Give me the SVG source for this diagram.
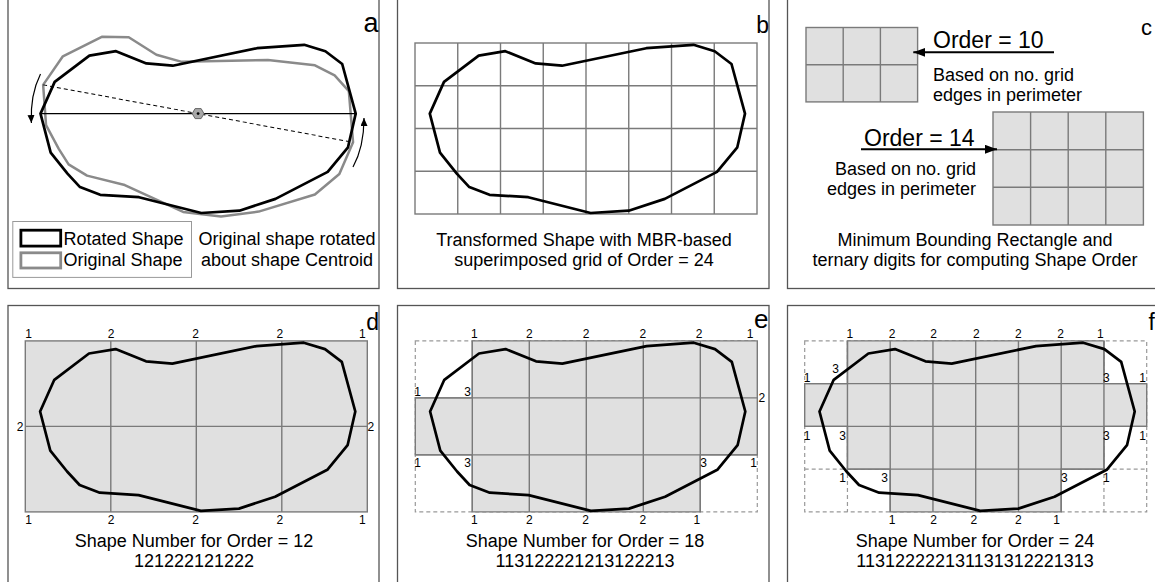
<svg xmlns="http://www.w3.org/2000/svg" xmlns:xlink="http://www.w3.org/1999/xlink" width="1155" height="582" viewBox="0 0 1155 582">
<style>
.border{fill:none;stroke:#555;stroke-width:1.3}
.shape{fill:none;stroke:#000;stroke-width:2.7;stroke-linejoin:round}
.orig{fill:none;stroke:#8a8a8a;stroke-width:2.5;stroke-linejoin:round}
.grid{fill:none;stroke:#7a7a7a;stroke-width:1.4}
.fillg{fill:#e0e0e0;stroke:#7a7a7a;stroke-width:1.4}
.dash{fill:none;stroke:#999;stroke-width:1.2;stroke-dasharray:4 3}
text{font-family:"Liberation Sans",Arial,sans-serif;fill:#000}
.cap{font-size:18px;text-anchor:middle}
.capl{font-size:18px;text-anchor:start}
.capr{font-size:18px;text-anchor:end}
.num{font-size:12px;text-anchor:middle}
.lbl{font-size:23px;text-anchor:end}
.ord{font-size:23px;text-anchor:start}
</style>
<defs>
<path id="blob" d="M29,38.9 L14.8,70.6 L25,109.7 L41.8,130.6 L54.3,144.1 L74.5,151.8 L113.3,154.2 L175.6,170 L213.7,167.7 L249.8,155.9 L302,128.9 L322.3,104.3 L330,70.6 L316.5,21 L299.7,8.2 L278.5,1.8 L231.3,5.2 L147,22.7 L120.7,20.4 L90.3,8.2 L63.7,12.6 Z"/>
<marker id="big" markerUnits="userSpaceOnUse" markerWidth="13" markerHeight="10" refX="12" refY="4.5" orient="auto"><path d="M0,0 L12,4.5 L0,9 Z" fill="#000"/></marker>
<marker id="small" markerUnits="userSpaceOnUse" markerWidth="9" markerHeight="8" refX="8" refY="3.5" orient="auto"><path d="M0,0 L8,3.5 L0,7 Z" fill="#000"/></marker>
</defs>

<g id="panel-a">
<rect class="border" x="8" y="-10" width="371" height="298.5"/>
<use href="#blob" class="orig" transform="rotate(10.5 198.1 113.6) translate(25.7 43)"/>
<use href="#blob" class="shape" transform="translate(25.7 43)"/>
<line x1="40.5" y1="113.6" x2="355.7" y2="113.6" stroke="#000" stroke-width="1.2"/>
<line x1="40.5" y1="113.6" x2="355.7" y2="113.6" stroke="#000" stroke-width="1" stroke-dasharray="4 3" transform="rotate(10.5 198.1 113.6)"/>
<polygon points="192.2,113.6 195.1,108.6 201.1,108.6 204,113.6 201.1,118.6 195.1,118.6" fill="#a8a8a8" stroke="#666" stroke-width="1"/>
<circle cx="198.1" cy="113.6" r="1.4" fill="#000"/>
<text class="lbl" x="378.5" y="32" style="font-size:27px">a</text>
<rect x="12.8" y="221.5" width="178.7" height="55.9" fill="#fff" stroke="#999" stroke-width="1"/>
<rect x="20.9" y="230.2" width="39.8" height="15.9" fill="none" stroke="#000" stroke-width="2.8"/>
<rect x="20.9" y="252.8" width="39.8" height="15.2" fill="none" stroke="#8a8a8a" stroke-width="2.8"/>
<text class="capl" x="63.4" y="245.4">Rotated Shape</text>
<text class="capl" x="63.4" y="266.3">Original Shape</text>
<text class="cap" x="287" y="245.4">Original shape rotated</text>
<text class="cap" x="287" y="266.3">about shape Centroid</text>
</g>

<g id="panel-b">
<rect class="border" x="397.5" y="-10" width="371.5" height="298.5"/>
<rect class="grid" x="415" y="43" width="342" height="171"/>
<path class="grid" d="M457.75,43V214 M500.5,43V214 M543.25,43V214 M586,43V214 M628.75,43V214 M671.5,43V214 M714.25,43V214 M415,85.75H757 M415,128.5H757 M415,171.25H757"/>
<use href="#blob" class="shape" transform="translate(415 43)"/>
<text class="lbl" x="769" y="32.7">b</text>
<text class="cap" x="584" y="246">Transformed Shape with MBR-based</text>
<text class="cap" x="584" y="266">superimposed grid of Order = 24</text>
</g>

<g id="panel-c">
<rect class="border" x="787.5" y="-10" width="380" height="298.5"/>
<rect class="fillg" x="806" y="27.5" width="111.6" height="74.4"/>
<path class="grid" d="M843.2,27.5V101.9 M880.4,27.5V101.9 M806,64.7H917.6"/>
<rect class="fillg" x="993" y="112" width="150.4" height="113"/>
<path class="grid" d="M1030.6,112V225 M1068.2,112V225 M1105.8,112V225 M993,149.7H1143.4 M993,187.3H1143.4"/>
<text class="ord" x="933" y="48">Order = 10</text>
<line x1="1054" y1="52.3" x2="913.3" y2="52.3" stroke="#000" stroke-width="2" marker-end="url(#big)"/>
<text class="capl" x="933" y="81">Based on no. grid</text>
<text class="capl" x="933" y="100.5">edges in perimeter</text>
<text class="ord" x="864" y="146">Order = 14</text>
<line x1="861" y1="149.3" x2="997" y2="149.3" stroke="#000" stroke-width="2" marker-end="url(#big)"/>
<text class="capr" x="976" y="175">Based on no. grid</text>
<text class="capr" x="976" y="195">edges in perimeter</text>
<text class="lbl" x="1152" y="35.4" style="font-size:22px">c</text>
<text class="cap" x="975" y="246">Minimum Bounding Rectangle and</text>
<text class="cap" x="975" y="266">ternary digits for computing Shape Order</text>
</g>

<g id="panel-d">
<rect class="border" x="8" y="305.5" width="371" height="300"/>
<rect class="fillg" x="25.3" y="340.9" width="342" height="171"/>
<path class="grid" d="M110.8,340.9V511.9 M196.3,340.9V511.9 M281.8,340.9V511.9 M25.3,426.4H367.3"/>
<use href="#blob" class="shape" transform="translate(25.3 340.9)"/>
<text class="lbl" x="379" y="329.8">d</text>
<text class="num" x="28.7" y="337.5">1</text><text class="num" x="111.2" y="337.5">2</text><text class="num" x="195.5" y="337.5">2</text><text class="num" x="279.8" y="337.5">2</text><text class="num" x="362.4" y="337.5">1</text>
<text class="num" x="28.7" y="524">1</text><text class="num" x="111.2" y="524">2</text><text class="num" x="195.5" y="524">2</text><text class="num" x="279.8" y="524">2</text><text class="num" x="362.4" y="524">1</text>
<text class="num" x="20.2" y="430.7">2</text><text class="num" x="370.8" y="430.7">2</text>
<text class="cap" x="194" y="546.5">Shape Number for Order = 12</text>
<text class="cap" x="194" y="566.5">121222121222</text>
</g>

<g id="panel-e">
<rect class="border" x="397.5" y="305.5" width="371.5" height="300"/>
<rect class="dash" x="415.3" y="340.9" width="342" height="171"/>
<polygon class="fillg" points="472.3,340.9 757.3,340.9 757.3,454.9 700.3,454.9 700.3,511.9 472.3,511.9 472.3,454.9 415.3,454.9 415.3,397.9 472.3,397.9"/>
<path class="grid" d="M472.3,340.9V511.9 M529.3,340.9V511.9 M586.3,340.9V511.9 M643.3,340.9V511.9 M700.3,340.9V511.9 M415.3,397.9H757.3 M415.3,454.9H757.3"/>
<use href="#blob" class="shape" transform="translate(415.3 340.9)"/>
<text class="lbl" x="768.5" y="327.5" style="font-size:26px">e</text>
<text class="num" x="474.3" y="337.5">1</text><text class="num" x="529.3" y="337.5">2</text><text class="num" x="586.2" y="337.5">2</text><text class="num" x="642.9" y="337.5">2</text><text class="num" x="699.2" y="337.5">2</text><text class="num" x="750" y="337.5">1</text>
<text class="num" x="417.7" y="395.5">1</text><text class="num" x="467.6" y="395.5">3</text><text class="num" x="761.9" y="402">2</text>
<text class="num" x="417.7" y="466.5">1</text><text class="num" x="467.6" y="466.5">3</text><text class="num" x="703.6" y="466.5">3</text><text class="num" x="753.5" y="466.5">1</text>
<text class="num" x="474.3" y="524">1</text><text class="num" x="529.3" y="524">2</text><text class="num" x="585.6" y="524">2</text><text class="num" x="642.9" y="524">2</text><text class="num" x="696.8" y="524">1</text>
<text class="cap" x="585" y="546.5">Shape Number for Order = 18</text>
<text class="cap" x="585" y="566.5">113122221213122213</text>
</g>

<g id="panel-f">
<rect class="border" x="787.5" y="305.5" width="380" height="300"/>
<rect class="dash" x="804.7" y="340.9" width="342" height="171"/>
<path class="dash" d="M847.45,340.9V511.9 M1103.95,340.9V511.9 M804.7,469.15H1146.7"/>
<polygon class="fillg" points="847.45,340.9 1103.95,340.9 1103.95,383.65 1146.7,383.65 1146.7,426.4 1103.95,426.4 1103.95,469.15 1061.2,469.15 1061.2,511.9 890.2,511.9 890.2,469.15 847.45,469.15 847.45,426.4 804.7,426.4 804.7,383.65 847.45,383.65"/>
<path class="grid" d="M847.45,340.9V469.15 M890.2,340.9V511.9 M932.95,340.9V511.9 M975.7,340.9V511.9 M1018.45,340.9V511.9 M1061.2,340.9V511.9 M1103.95,340.9V469.15 M804.7,383.65H1146.7 M804.7,426.4H1146.7 M847.45,469.15H1103.95"/>
<use href="#blob" class="shape" transform="translate(804.7 340.9)"/>
<text class="lbl" x="1155" y="329.8">f</text>
<text class="num" x="849.9" y="337.5">1</text><text class="num" x="892" y="337.5">2</text><text class="num" x="933.5" y="337.5">2</text><text class="num" x="976.3" y="337.5">2</text><text class="num" x="1018.4" y="337.5">2</text><text class="num" x="1060.6" y="337.5">2</text><text class="num" x="1100.4" y="337.5">1</text>
<text class="num" x="835.7" y="373">3</text><text class="num" x="807.1" y="382">1</text>
<text class="num" x="807.1" y="439.5">1</text><text class="num" x="842.5" y="439.5">3</text>
<text class="num" x="842.5" y="482">1</text><text class="num" x="884.6" y="482">3</text>
<text class="num" x="1106.4" y="382">3</text><text class="num" x="1142.5" y="382">1</text>
<text class="num" x="1106.4" y="439.5">3</text><text class="num" x="1142.5" y="439.5">1</text>
<text class="num" x="1064.3" y="482">3</text><text class="num" x="1106.4" y="482">1</text>
<text class="num" x="892" y="524">1</text><text class="num" x="933.5" y="524">2</text><text class="num" x="973.9" y="524">2</text><text class="num" x="1018.4" y="524">2</text><text class="num" x="1056.5" y="524">1</text>
<text class="cap" x="975" y="546.5">Shape Number for Order = 24</text>
<text class="cap" x="975" y="566.5">113122222131131312221313</text>
</g>

<g id="connectors">
<path d="M40.5,74 Q30,95 31.4,123" fill="none" stroke="#000" stroke-width="1.2" marker-end="url(#small)"/>
<path d="M353,167 Q364,147 364,118" fill="none" stroke="#000" stroke-width="1.2" marker-end="url(#small)"/>
</g>
</svg>
